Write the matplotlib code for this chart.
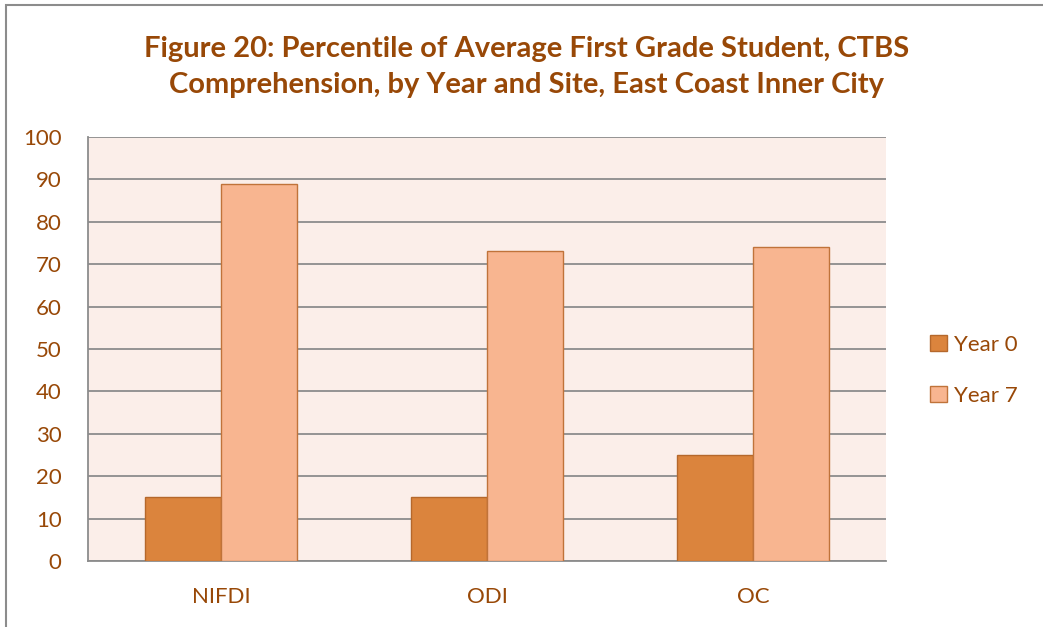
import matplotlib.pyplot as plt
import matplotlib.patches as patches
import numpy as np

# Data
sites = ["NIFDI", "ODI", "OC"]
year0 = [15, 15, 25]
year7 = [89, 73, 74]
series_names = ["Year 0", "Year 7"]

text_color = "#984807"
plt.rcParams['font.family'] = ['Lato', 'DejaVu Sans']

fig = plt.figure(figsize=(10.43, 6.27), dpi=100)

# outer chart frame
frame = patches.Rectangle((6 / 1043, -0.05), 1.1, 1 - 5 / 627 + 0.05,
                          transform=fig.transFigure, fill=False,
                          edgecolor="#8c8c8c", linewidth=1.5)
fig.patches.append(frame)

ax = fig.add_axes([88 / 1043, 1 - 561 / 627, (886 - 88) / 1043, (561 - 137) / 627])
ax.set_facecolor("#fbeee9")

x = np.arange(len(sites))
width = 1 / 3.5
ax.bar(x - width / 2, year0, width, color="#db843d", edgecolor="#b5682c",
       linewidth=1, label=series_names[0], zorder=3)
ax.bar(x + width / 2, year7, width, color="#f8b590", edgecolor="#c0733a",
       linewidth=1, label=series_names[1], zorder=3)

ax.set_xlim(-0.5, 2.5)
ax.set_ylim(0, 100)
ax.set_yticks(range(0, 101, 10))
ax.set_xticks(x)
ax.set_xticklabels(sites)
ax.yaxis.grid(True, color="#8c8c8c", linewidth=1.3, zorder=0)
ax.set_axisbelow(True)
for side in ["top", "right"]:
    ax.spines[side].set_visible(False)
ax.spines["left"].set_color("#8c8c8c")
ax.spines["bottom"].set_color("#8c8c8c")
ax.spines["left"].set_linewidth(1.3)
ax.spines["bottom"].set_linewidth(1.3)
ax.tick_params(axis="both", length=0, labelsize=16, labelcolor=text_color)
ax.tick_params(axis="y", pad=19)
ax.tick_params(axis="x", pad=19)

fig.text(0.505, 1 - 67 / 627,
         "Figure 20: Percentile of Average First Grade Student, CTBS\n"
         "Comprehension, by Year and Site, East Coast Inner City",
         ha="center", va="center", fontsize=21, fontweight="bold",
         color=text_color, linespacing=1.5)

ax.legend(loc="center left", bbox_to_anchor=(1.03, 0.45), frameon=False,
          fontsize=16, labelcolor=text_color, handlelength=0.75,
          handleheight=0.75, handletextpad=0.35, labelspacing=1.4)

fig.savefig("out.png", dpi=100)
